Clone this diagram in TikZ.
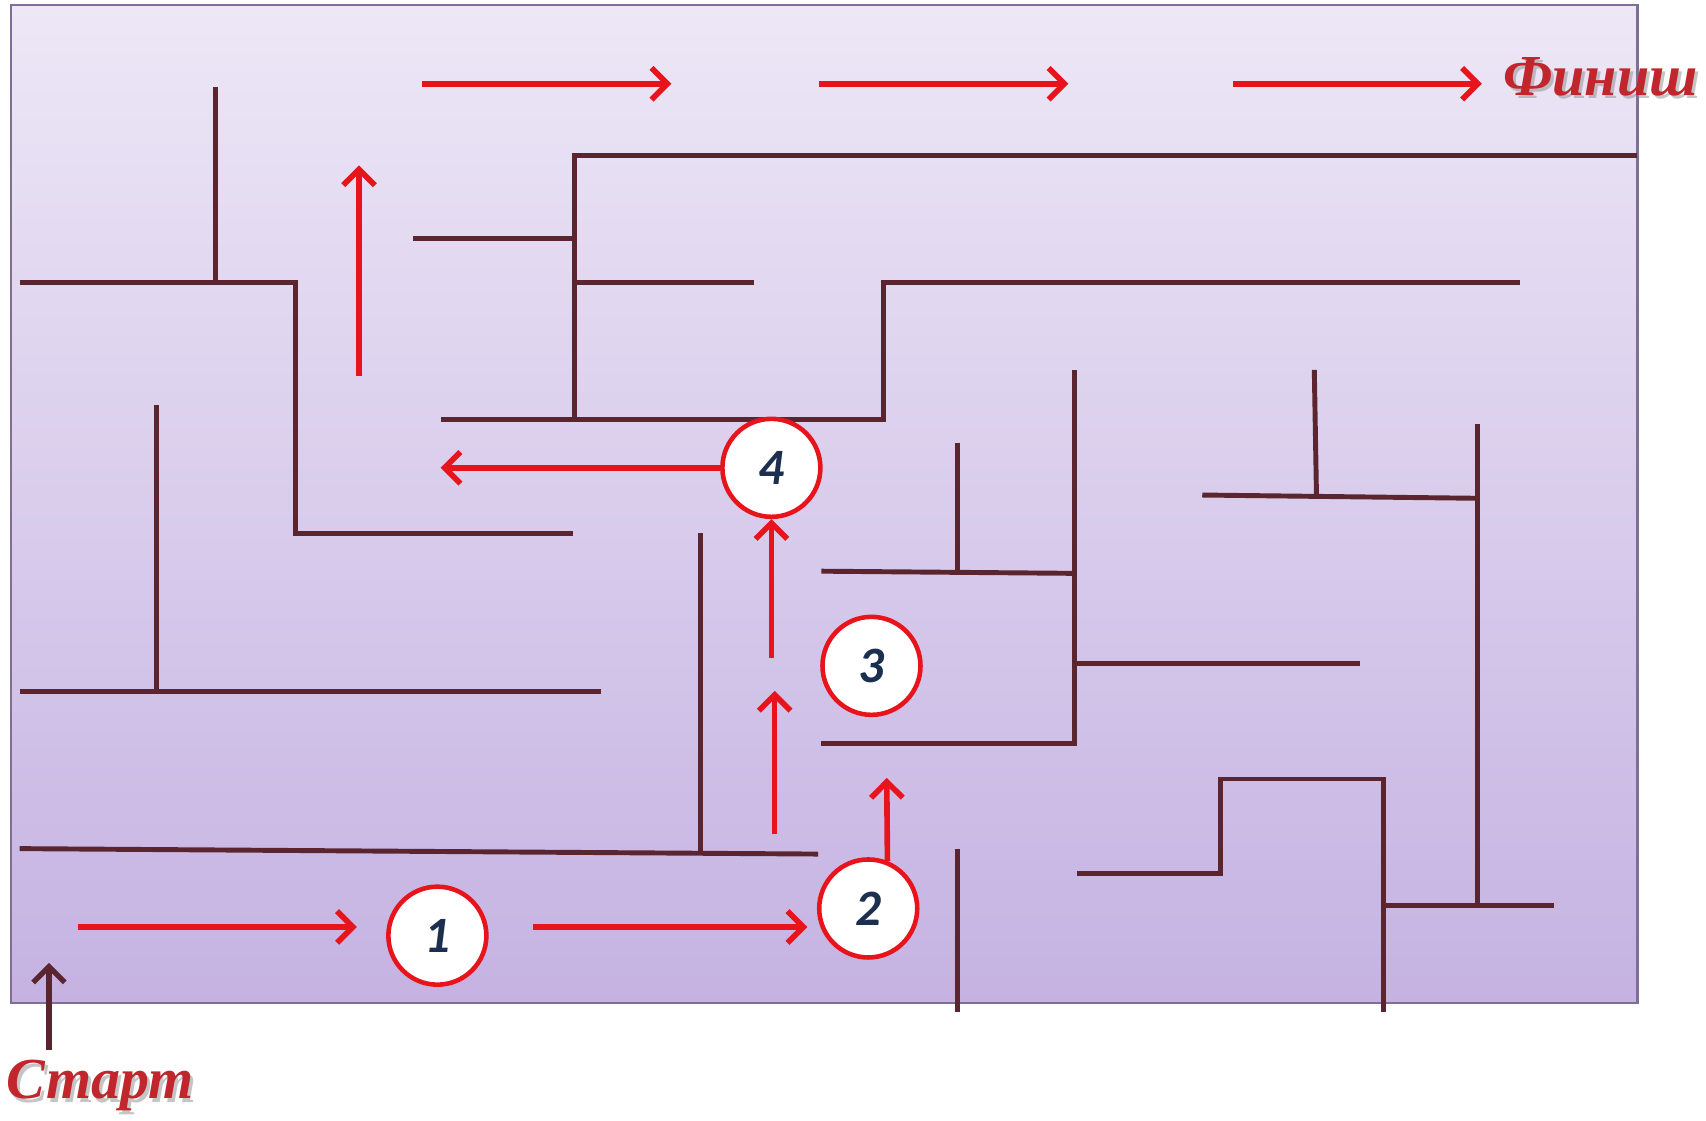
\documentclass[tikz,border=0pt]{standalone}
\usepackage{fontspec}
\setmainfont{Liberation Serif}
\newfontfamily\numfont{Carlito}
\usetikzlibrary{positioning,arrows.meta}
\definecolor{wallc}{HTML}{5B2530}
\definecolor{routec}{HTML}{E8141C}
\definecolor{numc}{HTML}{1C2F4F}
\definecolor{labelc}{HTML}{C0262C}
\definecolor{bgtop}{HTML}{EDE7F6}
\definecolor{bgbot}{HTML}{C5B2E2}
\definecolor{framec}{HTML}{7F6F95}
\tikzset{main node/.style={circle,fill=white,draw=routec,line width=1.3pt,minimum size=0.98cm,inner sep=0pt,font=\numfont\bfseries\itshape\fontsize{14.5}{14.5}\selectfont,text=numc}}
\tikzset{wall/.style={draw=wallc,line width=1.4pt}}
\tikzset{route/.style={draw=routec,line width=1.6pt,-{Straight Barb[length=4.5pt,width=9pt]}}}
\tikzset{title node/.style={font=\bfseries\itshape\fontsize{16.5}{16.5}\selectfont,text=labelc}}

\begin{document}
\begin{tikzpicture}[x={(0.01088cm,0)},y={(0,-0.01088cm)}]
            \useasboundingbox (0,0) rectangle (1568,1030);
            \shade[top color=bgtop,bottom color=bgbot] (10,5) rectangle (1505,922);
            \draw[framec,line width=0.6pt] (10,5) rectangle (1505,922);

            % maze walls
            \draw[wall] (198,80) -- (198,260);
            \draw[wall] (18,260) -- (272,260) -- (272,490) -- (527,490);
            \draw[wall] (144,372) -- (144,636);
            \draw[wall] (18,636) -- (552,636);
            \draw[wall] (18,780) -- (752,785);
            \draw[wall] (644,490) -- (644,784);
            \draw[wall] (1505,143) -- (528,143) -- (528,386);
            \draw[wall] (380,219) -- (528,219);
            \draw[wall] (528,260) -- (693,260);
            \draw[wall] (405,386) -- (812,386) -- (812,260) -- (1397,260);
            \draw[wall] (988,340) -- (988,686);
            \draw[wall] (755,525) -- (988,527);
            \draw[wall] (880,407) -- (880,526);
            \draw[wall] (988,610) -- (1250,610);
            \draw[wall] (755,683) -- (988,683);
            \draw[wall] (1208,340) -- (1210,456);
            \draw[wall] (1105,455) -- (1358,458);
            \draw[wall] (1358,390) -- (1358,832);
            \draw[wall] (1272,832) -- (1428,832);
            \draw[wall] (990,803) -- (1122,803) -- (1122,716) -- (1272,716) -- (1272,930);
            \draw[wall] (880,780) -- (880,930);

            % check points
            \node[main node] (one) at (402,860) {1};
            \node[main node] (two) at (798,835) {2};
            \node[main node] (three) at (801,612) {3};
            \node[main node] (four) at (709,430) {4};

            % free ends of the route
            \coordinate (entry) at (45,965);
            \coordinate (gate) at (45,885);
            \coordinate (r1a) at (72,852);
            \coordinate (r1b) at (328,852);
            \coordinate (r2a) at (490,852);
            \coordinate (r2b) at (742,852);
            \coordinate (r3) at (815,715);
            \coordinate (r4a) at (712,767);
            \coordinate (r4b) at (712,635);
            \coordinate (r5) at (709,605);
            \coordinate (r6) at (405,430);
            \coordinate (r7a) at (330,346);
            \coordinate (r7b) at (330,152);
            \coordinate (t1a) at (388,77);
            \coordinate (t1b) at (617,77);
            \coordinate (t2a) at (753,77);
            \coordinate (t2b) at (982,77);
            \coordinate (t3a) at (1133,77);
            \coordinate (t3b) at (1362,77);

            \draw[wallc,line width=1.5pt,-{Straight Barb[length=4.5pt,width=9pt]}] (entry) -- (gate);
            \path (r1a) edge[route] (r1b)
            (r2a) edge[route] (r2b)
            (two.68) edge[route] (r3)
            (r4a) edge[route] (r4b)
            (r5) edge[route] (four.south)
            (four.west) edge[route] (r6)
            (r7a) edge[route] (r7b)
            (t1a) edge[route] (t1b)
            (t2a) edge[route] (t2b)
            (t3a) edge[route] (t3b);

            % labels
            \node[title node,text=black!45,opacity=0.5] (start shadow) at (95,1001) {Старт};
            \node[title node] (start) at (92,998) {Старт};
            \node[title node,text=black!45,opacity=0.5] (finish shadow) [right=0.12cm of t3b,yshift=1.2pt] {Финиш};
            \node[title node] (finish) [right=0.09cm of t3b,yshift=2pt] {Финиш};
        \end{tikzpicture}
\end{document}
